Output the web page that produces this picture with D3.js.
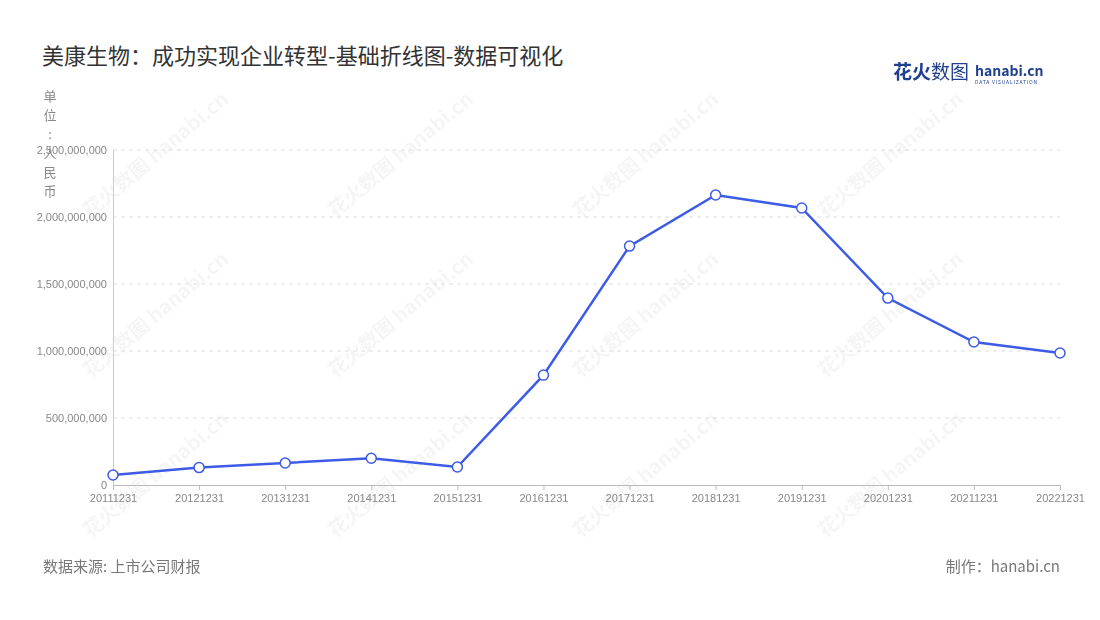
<!DOCTYPE html>
<html><head><meta charset="utf-8">
<script src="https://cdn.jsdelivr.net/npm/d3@7"></script>
<style>body{margin:0;background:#fff;font-family:"Noto Sans CJK SC","Noto Sans",sans-serif}</style>
</head><body><svg id="chart"></svg>
<script>
const years = ["20111231","20121231","20131231","20141231","20151231","20161231","20171231","20181231","20191231","20201231","20211231","20221231"];
const revenue = [75e6, 130e6, 164e6, 200e6, 134e6, 820e6, 1783e6, 2164e6, 2067e6, 1395e6, 1067e6, 985e6];
const yTicks = [0, 5e8, 1e9, 1.5e9, 2e9, 2.5e9];

const W = 1100, H = 620;
const svg = d3.select("#chart").attr("width", W).attr("height", H);

// watermarks
const wm = svg.append("g").attr("fill", "#000").attr("opacity", 0.04).attr("font-weight", 700);
for (let cx of [160, 405, 650, 895]) for (let cy of [160, 320, 480]) {
  wm.append("text").attr("transform", `translate(${cx},${cy}) rotate(-40)`)
    .attr("text-anchor", "middle").attr("font-size", 20).text("花火数图 hanabi.cn");
}

svg.append("text").attr("x", 42).attr("y", 64).attr("font-size", 22).attr("font-weight", 400).attr("fill", "#333")
  .text("美康生物：成功实现企业转型-基础折线图-数据可视化");

// logo
const logo = svg.append("g").attr("transform", "translate(893,79)");
logo.append("text").attr("font-size", 19).attr("font-weight", 700).attr("fill", "#1f3f8f").text("花火");
logo.append("text").attr("x", 38).attr("font-size", 19).attr("fill", "#1f3f8f").text("数图");
logo.append("text").attr("x", 82).attr("y", -3).attr("font-size", 14).attr("font-weight", 700).attr("fill", "#1f3f8f").text("hanabi.cn");
logo.append("text").attr("x", 82).attr("y", 5).attr("font-size", 5).attr("fill", "#1f3f8f").attr("letter-spacing", 0.8).text("DATA VISUALIZATION");

const x = d3.scalePoint().domain(years).range([113, 1060]);
const y = d3.scaleLinear().domain([0, 2.5e9]).range([485, 150]);

// grid
svg.append("g").selectAll("line").data(yTicks.slice(1)).join("line")
  .attr("x1", 113).attr("x2", 1060).attr("y1", d => y(d)).attr("y2", d => y(d))
  .attr("stroke", "#ddd").attr("stroke-dasharray", "4,4");

const yAxis = svg.append("g").attr("transform", "translate(113,0)")
  .call(d3.axisLeft(y).tickValues(yTicks).tickFormat(d3.format(",")).tickSize(0).tickPadding(6));
yAxis.select(".domain").attr("stroke", "#ccc");
yAxis.selectAll("text").attr("fill", "#888").attr("font-size", 11);

const xAxis = svg.append("g").attr("transform", "translate(0,485)")
  .call(d3.axisBottom(x).tickSize(5).tickPadding(4));
xAxis.select(".domain").attr("stroke", "#bbb");
xAxis.selectAll("line").attr("stroke", "#bbb");
xAxis.selectAll("text").attr("fill", "#888").attr("font-size", 11);

// unit label vertical
const unit = "单位：人民币".split("");
svg.append("g").selectAll("text").data(unit).join("text")
  .attr("x", 50).attr("y", (d, i) => 101 + i * 19).attr("text-anchor", "middle")
  .attr("font-size", 13).attr("fill", "#888").text(d => d === "：" ? ":" : d);

const data = years.map((yr, i) => ({ yr, v: revenue[i] }));
svg.append("path").datum(data)
  .attr("d", d3.line().x(d => x(d.yr)).y(d => y(d.v)))
  .attr("fill", "none").attr("stroke", "#3d5be6").attr("stroke-width", 2.5);
svg.append("g").selectAll("circle").data(data).join("circle")
  .attr("cx", d => x(d.yr)).attr("cy", d => y(d.v)).attr("r", 5)
  .attr("fill", "#fff").attr("stroke", "#3d5be6").attr("stroke-width", 1.5);

svg.append("text").attr("x", 43).attr("y", 572).attr("font-size", 15).attr("fill", "#777").text("数据来源: 上市公司财报");
svg.append("text").attr("x", 1060).attr("y", 572).attr("text-anchor", "end").attr("font-size", 15).attr("fill", "#777").text("制作：hanabi.cn");
</script></body></html>
